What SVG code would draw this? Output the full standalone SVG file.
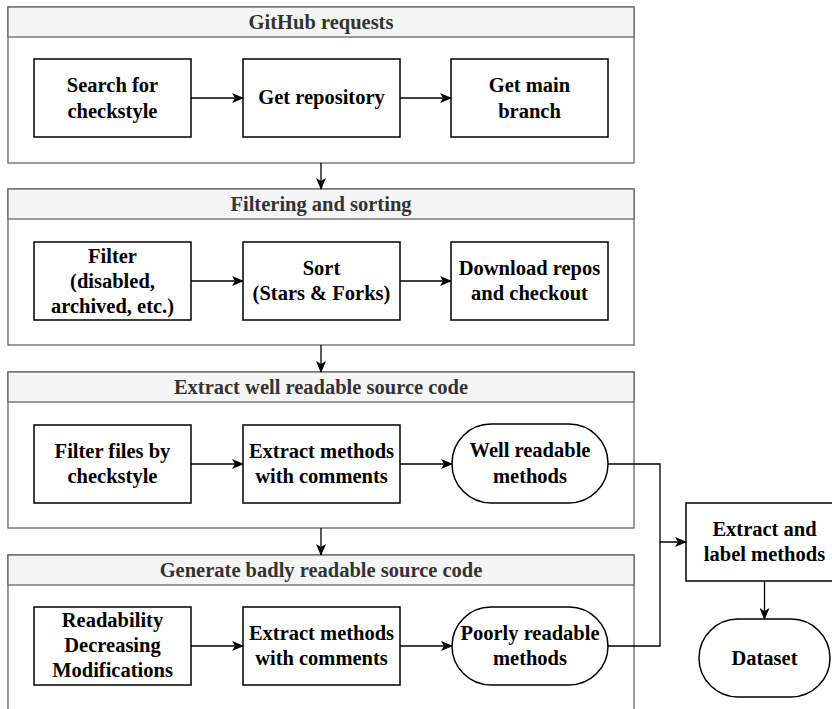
<svg xmlns="http://www.w3.org/2000/svg" width="832" height="709" viewBox="0 0 832 709">
<defs>
<style>
.cont{fill:#ffffff;stroke:#666666;stroke-width:1.3}
.head{fill:#f5f5f5;stroke:#666666;stroke-width:1.3}
.ht{font-family:'Liberation Serif','Times New Roman','DejaVu Serif',serif;font-weight:bold;font-size:20.5px;fill:#333333;text-anchor:middle}
.node{fill:#ffffff;stroke:#000000;stroke-width:1.5}
.nt{font-family:'Liberation Serif','Times New Roman','DejaVu Serif',serif;font-weight:bold;font-size:20.5px;fill:#000000;text-anchor:middle}
.edge{fill:none;stroke:#000000;stroke-width:1.3;marker-end:url(#arr)}
.line{fill:none;stroke:#000000;stroke-width:1.3}
</style>
<marker id="arr" viewBox="0 0 12 10" refX="11" refY="5" markerWidth="12" markerHeight="10" markerUnits="userSpaceOnUse" orient="auto">
<path d="M0,0 L12,5 L0,10 L3,5 z" fill="#000000"/>
</marker>
</defs>

<g id="c1">
<rect class="cont" x="8" y="7" width="626" height="156"/>
<rect class="head" x="8" y="7" width="626" height="30"/>
<text class="ht" x="321" y="29">GitHub requests</text>
</g>
<g id="c2">
<rect class="cont" x="8" y="189" width="626" height="156"/>
<rect class="head" x="8" y="189" width="626" height="30"/>
<text class="ht" x="321" y="211">Filtering and sorting</text>
</g>
<g id="c3">
<rect class="cont" x="8" y="372" width="626" height="156"/>
<rect class="head" x="8" y="372" width="626" height="30"/>
<text class="ht" x="321" y="394">Extract well readable source code</text>
</g>
<g id="c4">
<rect class="cont" x="8" y="555" width="626" height="170"/>
<rect class="head" x="8" y="555" width="626" height="30"/>
<text class="ht" x="321" y="577">Generate badly readable source code</text>
</g>

<g id="n1">
<rect class="node" x="34" y="59" width="157" height="78"/>
<text class="nt" x="112.5" y="92">Search for</text>
<text class="nt" x="112.5" y="118">checkstyle</text>
</g>
<g id="n2">
<rect class="node" x="243" y="59" width="157" height="78"/>
<text class="nt" x="321.5" y="104">Get repository</text>
</g>
<g id="n3">
<rect class="node" x="451" y="59" width="157" height="78"/>
<text class="nt" x="529.5" y="92">Get main</text>
<text class="nt" x="529.5" y="118">branch</text>
</g>

<g id="n4">
<rect class="node" x="34" y="242" width="157" height="78"/>
<text class="nt" x="112.5" y="263">Filter</text>
<text class="nt" x="112.5" y="288">(disabled,</text>
<text class="nt" x="112.5" y="313">archived, etc.)</text>
</g>
<g id="n5">
<rect class="node" x="243" y="242" width="157" height="78"/>
<text class="nt" x="321.5" y="275">Sort</text>
<text class="nt" x="321.5" y="300">(Stars &amp; Forks)</text>
</g>
<g id="n6">
<rect class="node" x="451" y="242" width="157" height="78"/>
<text class="nt" x="529.5" y="275">Download repos</text>
<text class="nt" x="529.5" y="300">and checkout</text>
</g>

<g id="n7">
<rect class="node" x="34" y="425" width="157" height="78"/>
<text class="nt" x="112.5" y="458">Filter files by</text>
<text class="nt" x="112.5" y="483">checkstyle</text>
</g>
<g id="n8">
<rect class="node" x="243" y="425" width="157" height="78"/>
<text class="nt" x="321.5" y="458">Extract methods</text>
<text class="nt" x="321.5" y="483">with comments</text>
</g>
<g id="n9">
<rect class="node" x="452" y="424" width="156" height="79" rx="39" ry="39"/>
<text class="nt" x="530" y="457">Well readable</text>
<text class="nt" x="530" y="483">methods</text>
</g>

<g id="n10">
<rect class="node" x="34" y="607" width="157" height="78"/>
<text class="nt" x="112.5" y="627">Readability</text>
<text class="nt" x="112.5" y="652">Decreasing</text>
<text class="nt" x="112.5" y="677">Modifications</text>
</g>
<g id="n11">
<rect class="node" x="243" y="607" width="157" height="78"/>
<text class="nt" x="321.5" y="640">Extract methods</text>
<text class="nt" x="321.5" y="665">with comments</text>
</g>
<g id="n12">
<rect class="node" x="452" y="607" width="156" height="78" rx="39" ry="39"/>
<text class="nt" x="530" y="640">Poorly readable</text>
<text class="nt" x="530" y="665">methods</text>
</g>

<g id="n13">
<rect class="node" x="686" y="503" width="157" height="78"/>
<text class="nt" x="764.5" y="536">Extract and</text>
<text class="nt" x="764.5" y="561">label methods</text>
</g>
<g id="n14">
<rect class="node" x="699" y="619" width="131" height="78" rx="39" ry="39"/>
<text class="nt" x="764.5" y="665">Dataset</text>
</g>

<g id="edges">
<path class="edge" d="M191,98 L243,98"/>
<path class="edge" d="M400,98 L451,98"/>
<path class="edge" d="M321,163 L321,189"/>
<path class="edge" d="M191,281 L243,281"/>
<path class="edge" d="M400,281 L451,281"/>
<path class="edge" d="M321,345 L321,372"/>
<path class="edge" d="M191,464 L243,464"/>
<path class="edge" d="M400,464 L452,464"/>
<path class="edge" d="M321,528 L321,555"/>
<path class="edge" d="M191,646 L243,646"/>
<path class="edge" d="M400,646 L452,646"/>
<path class="edge" d="M608,464 L660,464 L660,542 L686,542"/>
<path class="line" d="M608,646 L660,646 L660,542"/>
<path class="edge" d="M764.5,581 L764.5,619"/>
</g>
</svg>
